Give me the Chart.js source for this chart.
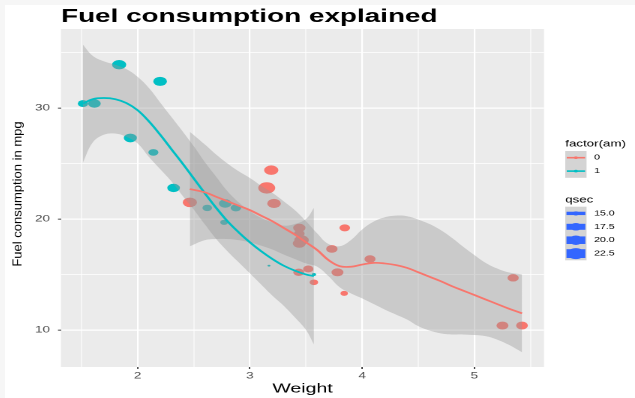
<!DOCTYPE html>
<html>
<head>
<meta charset="utf-8">
<title>Fuel consumption explained</title>
<script src="https://cdn.jsdelivr.net/npm/chart.js@4.4.1/dist/chart.umd.min.js"></script>
<style>
  html, body { margin: 0; padding: 0; background: #fff; }
  #frame { position: relative; width: 635px; height: 398px; background: #f6f6f6; overflow: hidden; }
  #chart { position: absolute; left: 5px; top: 5px; }
</style>
</head>
<body>
<div id="frame"><canvas id="chart" width="420" height="393" style="width:630px;height:393px"></canvas></div>
<script>
// mtcars, automatic transmission (am = 0): weight, mpg, quarter mile time
var autoWt   = [3.215, 3.440, 3.460, 3.570, 3.190, 3.150, 3.440, 3.440, 4.070, 3.730, 3.780, 5.250, 5.424, 5.345, 2.465, 3.520, 3.435, 3.840, 3.845];
var autoMpg  = [21.4, 18.7, 18.1, 14.3, 24.4, 22.8, 19.2, 17.8, 16.4, 17.3, 15.2, 10.4, 10.4, 14.7, 21.5, 15.5, 15.2, 13.3, 19.2];
var autoQsec = [19.44, 17.02, 20.22, 15.84, 20.00, 22.90, 18.30, 18.90, 17.40, 17.60, 18.00, 17.98, 17.82, 17.42, 20.01, 16.87, 17.30, 15.41, 17.05];

// manual transmission (am = 1)
var manWt   = [2.620, 2.875, 2.320, 2.200, 1.615, 1.835, 1.935, 2.140, 1.513, 3.170, 2.770, 3.570, 2.780];
var manMpg  = [21.0, 21.0, 22.8, 32.4, 30.4, 33.9, 27.3, 26.0, 30.4, 15.8, 19.7, 15.0, 21.4];
var manQsec = [16.46, 17.02, 18.61, 19.47, 18.52, 19.90, 18.90, 16.70, 16.90, 14.50, 15.50, 14.60, 18.60];

// loess smooth and 95% band, am = 0
var autoFitX  = [2.465, 2.6, 2.7, 2.8, 2.9, 3.0, 3.1, 3.2, 3.3, 3.4, 3.5, 3.6, 3.7, 3.8, 3.9, 4.0, 4.1, 4.2, 4.3, 4.4, 4.5, 4.6, 4.7, 4.8, 4.9, 5.0, 5.1, 5.2, 5.3, 5.424];
var autoFitY  = [22.7, 22.4, 22.0, 21.6, 21.2, 20.8, 20.3, 19.8, 19.2, 18.6, 17.9, 17.2, 16.3, 15.75, 15.7, 15.9, 16.05, 16.0, 15.85, 15.6, 15.2, 14.8, 14.4, 13.95, 13.55, 13.15, 12.75, 12.35, 11.95, 11.5];
var autoFitHi = [27.85, 26.7, 25.8, 25.0, 24.3, 23.7, 23.0, 22.35, 21.6, 20.8, 19.8, 18.7, 17.75, 17.55, 18.1, 19.05, 19.75, 20.15, 20.3, 20.25, 19.95, 19.55, 19.0, 18.3, 17.5, 16.75, 16.05, 15.55, 15.2, 15.0];
var autoFitLo = [17.55, 18.1, 18.2, 18.2, 18.1, 17.9, 17.6, 17.25, 16.8, 16.4, 16.0, 15.7, 14.85, 13.85, 13.3, 12.85, 12.35, 11.85, 11.4, 10.95, 10.35, 9.95, 9.7, 9.6, 9.6, 9.55, 9.45, 9.15, 8.7, 8.0];

// loess smooth and 95% band, am = 1
var manFitX  = [1.513, 1.6, 1.7, 1.8, 1.9, 2.0, 2.1, 2.2, 2.3, 2.4, 2.5, 2.6, 2.7, 2.8, 2.9, 3.0, 3.1, 3.2, 3.3, 3.4, 3.5, 3.57];
var manFitY  = [30.4, 30.8, 30.9, 30.8, 30.45, 29.8, 28.8, 27.6, 26.3, 25.0, 23.65, 22.3, 21.0, 19.8, 18.8, 17.9, 17.1, 16.4, 15.8, 15.35, 15.0, 14.85];
var manFitHi = [35.7, 34.7, 34.2, 33.9, 33.5, 32.8, 31.8, 30.5, 29.2, 27.9, 26.55, 25.1, 23.8, 22.5, 21.5, 20.7, 20.1, 19.7, 19.4, 19.55, 20.0, 21.0];
var manFitLo = [25.1, 26.9, 27.6, 27.7, 27.4, 26.8, 25.6, 24.5, 23.4, 22.1, 20.85, 19.5, 18.2, 17.1, 16.1, 15.1, 14.1, 13.1, 12.2, 11.15, 10.0, 8.7];

// axis breaks and legend entries
var xMajor = [2, 3, 4, 5];
var xMinor = [1.5, 2.5, 3.5, 4.5, 5.5];
var yMajor = [10, 20, 30];
var yMinor = [15, 25, 35];
var amLevels = ['0', '1'];
var qsecBreaks = [15, 17.5, 20, 22.5];

var RED = '#F8766D', CYAN = '#00BFC4', BLUE = '#3366FF';
var BAND = 'rgba(153,153,153,0.4)';
var FONT = '"Liberation Sans", Arial, Helvetica, sans-serif';
var SX = 1.5;   // the canvas is laid out narrow and stretched sideways by css

Chart.defaults.font.family = FONT;

var allQsec = autoQsec.concat(manQsec);
var qMin = Math.min.apply(null, allQsec);
var qMax = Math.max.apply(null, allQsec);

// area scale like scale_size(): 1..6
function sizeOf(q) { return 1 + 5 * Math.sqrt((q - qMin) / (qMax - qMin)); }
function radiusOf(q) { return 0.94 * sizeOf(q); }

function pts(xs, ys) {
  return xs.map(function(x, i) { return { x: x, y: ys[i] }; });
}

function pointDs(xs, ys, qs, col) {
  var r = function(c) { return c.dataIndex == null ? 3 : radiusOf(qs[c.dataIndex]); };
  return {
    type: 'scatter', data: pts(xs, ys), order: 3, showLine: false,
    backgroundColor: col, borderColor: col, borderWidth: 0,
    pointRadius: r, pointHoverRadius: r
  };
}

function edgeDs(xs, ys, fill) {
  return {
    type: 'line', data: pts(xs, ys), order: 2,
    borderColor: 'rgba(0,0,0,0)', borderWidth: 0, pointRadius: 0, pointHoverRadius: 0,
    fill: fill, backgroundColor: BAND, tension: 0.4
  };
}

function fitDs(xs, ys, col) {
  return {
    type: 'line', data: pts(xs, ys), order: 1,
    borderColor: col, borderWidth: 1.7, pointRadius: 0, pointHoverRadius: 0,
    fill: false, tension: 0.4
  };
}

function isIn(list, v) {
  for (var i = 0; i < list.length; i++) if (Math.abs(list[i] - v) < 1e-9) return true;
  return false;
}

function tickList(major, minor) {
  return major.concat(minor).sort(function(a, b) { return a - b; })
    .map(function(v) { return { value: v }; });
}

function gridFor(major, wMajor, wMinor) {
  return {
    color: '#FFFFFF',
    lineWidth: function(c) { return c.tick && isIn(major, c.tick.value) ? wMajor : wMinor; },
    drawTicks: true,
    tickLength: 2,
    tickWidth: 0.9,
    tickColor: function(c) { return c.tick && isIn(major, c.tick.value) ? '#333333' : 'rgba(0,0,0,0)'; }
  };
}

// white page, grey panel
var backdrop = {
  id: 'backdrop',
  beforeDraw: function(chart) {
    var ctx = chart.ctx, a = chart.chartArea;
    ctx.save();
    ctx.fillStyle = '#FFFFFF';
    ctx.fillRect(0, 0, chart.width, chart.height);
    ctx.fillStyle = '#EBEBEB';
    ctx.fillRect(a.left, a.top, a.right - a.left, a.bottom - a.top);
    ctx.restore();
  }
};

// y title, drawn un-stretched
var yTitle = {
  id: 'yTitle',
  afterDraw: function(chart) {
    var ctx = chart.ctx, a = chart.chartArea;
    ctx.save();
    ctx.translate(10.9, (a.top + a.bottom) / 2 - 4);
    ctx.scale(1 / SX, 1);
    ctx.rotate(-Math.PI / 2);
    ctx.font = '13px ' + FONT;
    ctx.fillStyle = '#000000';
    ctx.textAlign = 'center';
    ctx.textBaseline = 'alphabetic';
    ctx.fillText('Fuel consumption in mpg', 0, 0);
    ctx.restore();
  }
};

// colour and size guides
var guides = {
  id: 'guides',
  afterDraw: function(chart) {
    var ctx = chart.ctx;
    var x0 = 373.5, kw = 14.2, tx = 392.7, kh = 13.4;
    var cols = [RED, CYAN];
    ctx.save();
    ctx.textAlign = 'left';

    ctx.fillStyle = '#000000';
    ctx.font = '8.9px ' + FONT;
    ctx.textBaseline = 'alphabetic';
    ctx.fillText('factor(am)', x0, 141.7);

    var top = 146;
    ctx.fillStyle = '#D4D4D4';
    ctx.fillRect(x0, top, kw, kh * amLevels.length);
    amLevels.forEach(function(lab, i) {
      var cy = top + kh * i + kh / 2;
      ctx.strokeStyle = cols[i];
      ctx.lineWidth = 1.6;
      ctx.beginPath();
      ctx.moveTo(x0 + 1, cy);
      ctx.lineTo(x0 + kw - 1, cy);
      ctx.stroke();
      ctx.fillStyle = cols[i];
      ctx.beginPath();
      ctx.arc(x0 + kw / 2, cy, 1.3, 0, Math.PI * 2);
      ctx.fill();
      ctx.fillStyle = '#000000';
      ctx.font = '7.1px ' + FONT;
      ctx.textBaseline = 'middle';
      ctx.fillText(lab, tx, cy);
    });

    ctx.fillStyle = '#000000';
    ctx.font = '8.9px ' + FONT;
    ctx.textBaseline = 'alphabetic';
    ctx.fillText('qsec', x0, 197.7);

    top = 201.7;
    ctx.fillStyle = '#D4D4D4';
    ctx.fillRect(x0, top, kw, kh * qsecBreaks.length);
    qsecBreaks.forEach(function(q, i) {
      var cy = top + kh * i + kh / 2;
      var s = sizeOf(q), lw = Math.min(s * 1.5, kh - 2);
      ctx.fillStyle = BLUE;
      ctx.fillRect(x0 + 0.8, cy - lw / 2, kw - 1.6, lw);
      ctx.beginPath();
      ctx.arc(x0 + kw / 2, cy, Math.min(radiusOf(q), kh / 2 - 0.6), 0, Math.PI * 2);
      ctx.fill();
      ctx.fillStyle = '#000000';
      ctx.font = '7.1px ' + FONT;
      ctx.textBaseline = 'middle';
      ctx.fillText(q.toFixed(1), tx, cy);
    });
    ctx.restore();
  }
};

new Chart(document.getElementById('chart'), {
  type: 'scatter',
  data: {
    datasets: [
      pointDs(autoWt, autoMpg, autoQsec, RED),
      pointDs(manWt, manMpg, manQsec, CYAN),
      edgeDs(autoFitX, autoFitHi, false),
      edgeDs(autoFitX, autoFitLo, '-1'),
      edgeDs(manFitX, manFitHi, false),
      edgeDs(manFitX, manFitLo, '-1'),
      fitDs(autoFitX, autoFitY, RED),
      fitDs(manFitX, manFitY, CYAN)
    ]
  },
  options: {
    responsive: false,
    devicePixelRatio: 2,
    animation: false,
    events: [],
    layout: { padding: { left: 0, right: 60.67, top: 0, bottom: 0 } },
    plugins: {
      legend: { display: false },
      tooltip: { enabled: false },
      title: {
        display: true,
        fullSize: false,
        align: 'start',
        text: 'Fuel consumption explained',
        color: '#000000',
        font: { size: 18.6, weight: 'bold', lineHeight: 1.2 },
        padding: { top: 0.7, bottom: 1.0 }
      }
    },
    scales: {
      x: {
        type: 'linear',
        min: 1.317,
        max: 5.620,
        afterBuildTicks: function(s) { s.ticks = tickList(xMajor, xMinor); },
        afterFit: function(s) { s.height = 31; },
        border: { display: false },
        grid: gridFor(xMajor, 1.1, 0.55),
        ticks: {
          autoSkip: false, maxRotation: 0, padding: 1.5,
          color: '#4D4D4D', font: { size: 9 },
          callback: function(v) { return isIn(xMajor, v) ? String(v) : ''; }
        },
        title: {
          display: true, text: 'Weight', color: '#000000',
          font: { size: 13, lineHeight: 1.2 }, padding: { top: 0, bottom: 1.1 }
        }
      },
      y: {
        type: 'linear',
        min: 6.667,
        max: 37.117,
        afterBuildTicks: function(s) { s.ticks = tickList(yMajor, yMinor); },
        afterFit: function(s) { s.width = 37.33; },
        border: { display: false },
        grid: gridFor(yMajor, 1.3, 0.65),
        ticks: {
          autoSkip: false, padding: 5.3,
          color: '#4D4D4D', font: { size: 9 },
          callback: function(v) { return isIn(yMajor, v) ? String(v) : ''; }
        }
      }
    }
  },
  plugins: [backdrop, yTitle, guides]
});
</script>
</body>
</html>
